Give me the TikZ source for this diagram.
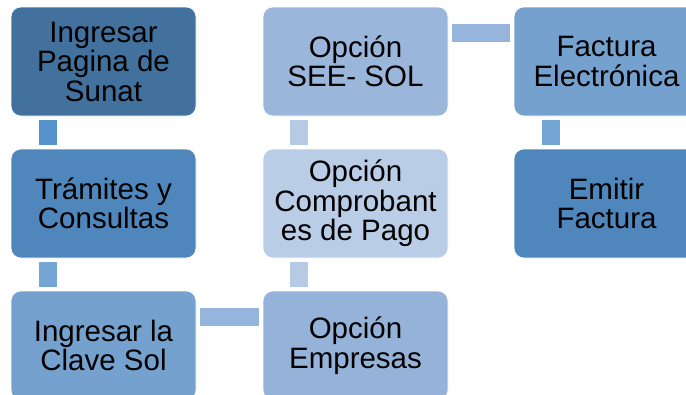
\documentclass[tikz,border=0pt]{standalone}
\usepackage{fontspec}
\setmainfont{Liberation Sans}
\definecolor{bA}{HTML}{41719C}
\definecolor{bB}{HTML}{4F87BC}
\definecolor{bC}{HTML}{75A1CF}
\definecolor{bD}{HTML}{95B3D9}
\definecolor{bE}{HTML}{B9CDE6}
\definecolor{bF}{HTML}{9AB7DB}
\definecolor{kA}{HTML}{5592CB}
\definecolor{kB}{HTML}{75A5D4}
\definecolor{kC}{HTML}{95B5DC}
\definecolor{kD}{HTML}{B5CBE5}
\tikzset{
  stepbox/.style={draw=white, line width=0.6pt, rounded corners=10pt, minimum width=185pt, minimum height=109pt, inner sep=0pt, align=center, text=black, font=\fontsize{29.5}{29.5}\selectfont},
}
\begin{document}
\begin{tikzpicture}[x=1pt,y=-1pt]
\useasboundingbox (0,0) rectangle (686,394);
\clip (0,0) rectangle (686,394);
\fill[white] (0,0) rectangle (686,394);
\node[stepbox, fill=bA] (n1) at (103.5,61.5) {Ingresar\\Pagina de\\Sunat};
\node[stepbox, fill=bB] (n2) at (103.5,203.5) {Trámites y\\Consultas};
\node[stepbox, fill=bC] (n3) at (103.5,345.5) {Ingresar la\\Clave Sol};
\node[stepbox, fill=bD] (n4) at (355.5,345.5) {Opción\\Empresas};
\node[stepbox, fill=bE] (n5) at (355.5,203.5) {Opción\\Comprobant\\es de Pago};
\node[stepbox, fill=bF] (n6) at (355.5,61.5) {Opción\\SEE- SOL};
\node[stepbox, fill=bC] (n7) at (606.5,61.5) {Factura\\Electrónica};
\node[stepbox, fill=bB] (n8) at (606.5,203.5) {Emitir\\Factura};
% connectors
\fill[kA] ([xshift=28pt,yshift=-4pt]n1.south west) rectangle ([xshift=46pt,yshift=4pt]n2.north west);
\fill[kB] ([xshift=28pt,yshift=-4pt]n2.south west) rectangle ([xshift=46pt,yshift=4pt]n3.north west);
\fill[kC] ([xshift=4pt,yshift=-17pt]n3.north east) rectangle ([xshift=-4pt,yshift=-35pt]n4.north west);
\fill[kD] ([xshift=27pt,yshift=4pt]n4.north west) rectangle ([xshift=45pt,yshift=-4pt]n5.south west);
\fill[kD] ([xshift=27pt,yshift=4pt]n5.north west) rectangle ([xshift=45pt,yshift=-4pt]n6.south west);
\fill[kC] ([xshift=4pt,yshift=-17pt]n6.north east) rectangle ([xshift=-4pt,yshift=-35pt]n7.north west);
\fill[kB] ([xshift=28pt,yshift=-4pt]n7.south west) rectangle ([xshift=46pt,yshift=4pt]n8.north west);
\end{tikzpicture}
\end{document}
